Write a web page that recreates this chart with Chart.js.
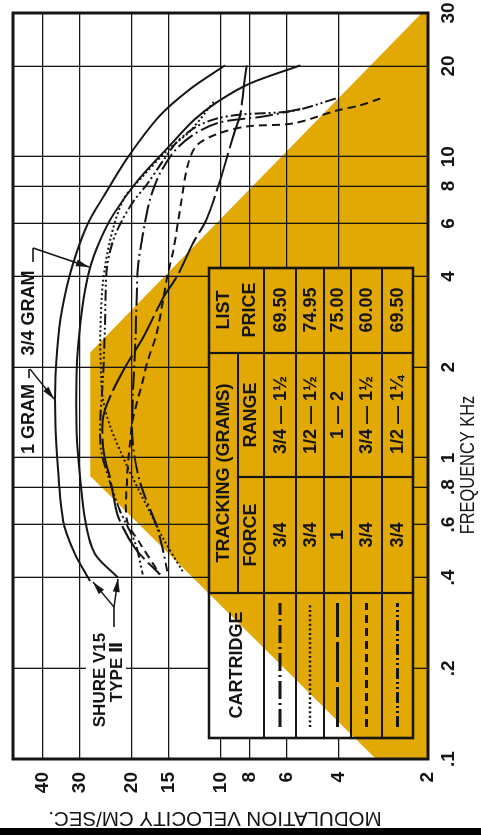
<!DOCTYPE html>
<html>
<head>
<meta charset="utf-8">
<script src="https://cdn.jsdelivr.net/npm/chart.js@4.4.1/dist/chart.umd.min.js"></script>
<style>
  html, body { margin: 0; padding: 0; background: #fff; overflow: hidden; width: 481px; height: 835px; }
  /* the sheet is laid out landscape and turned a quarter turn counter-clockwise */
  #sheet { position: absolute; left: 0; top: 0; width: 835px; height: 481px;
           transform-origin: 0 0; transform: translateY(835px) rotate(-90deg); background: #fff; }
  canvas { display: block; }
</style>
</head>
<body>
<div id="sheet"><canvas id="chart" width="835" height="481"></canvas></div>
<script>
// ---- axes ----
const freqTicks = [0.1, 0.2, 0.4, 0.6, 0.8, 1, 2, 4, 6, 8, 10, 20, 30];
const freqTickLabels = ['.1', '.2', '.4', '.6', '.8', '1', '2', '4', '6', '8', '10', '20', '30'];
const velTicks = [2, 4, 6, 8, 10, 15, 20, 30, 40];
const velTickLabels = ['2', '4', '6', '8', '10', '15', '20', '30', '40'];

// ---- recorded-level limit area (kHz, cm/sec) ----
const limitFreq = [30, 2.24, 0.87, 0.1, 0.1, 30];
const limitVel  = [2.1, 27.7, 27.7, 3.0, 2, 2];

// ---- Shure V15 Type II trackability ----
const shure1gFreq = [20.1, 16.8, 13.7, 10, 7.5, 6.0, 4.3, 3.1, 2.3, 1.57, 0.99, 0.62, 0.48, 0.39];
const shure1gVel  = [9.7, 12.7, 16.1, 20.6, 24.7, 28.2, 31.9, 34.5, 35.8, 36.4, 35.8, 34.2, 31.2, 27.7];
const shure34Freq = [20.1, 17.5, 15.2, 13.2, 10.9, 8.3, 6.4, 5.3, 4.3, 3.1, 2.1, 1.57, 1.13, 0.62, 0.48, 0.40];
const shure34Vel  = [5.4, 8.0, 10.3, 12.4, 14.9, 19.2, 23.2, 25.6, 27.7, 29.5, 30.7, 30.9, 30.7, 28.8, 26.7, 22.3];

// ---- other cartridges ----
const cart1Freq = [14.4, 13.6, 13.0, 11.9, 10.5, 8.8, 7.2, 5.5, 4.3, 2.4, 1.57, 1.13, 0.83, 0.59, 0.49, 0.42];
const cart1Vel  = [5.4, 7.2, 10.1, 12.3, 14.3, 16.1, 17.4, 18.4, 19.1, 19.5, 19.9, 19.9, 18.8, 16.5, 15.7, 15.2];
const cart2Freq = [15.2, 12.2, 10.5, 8.6, 7.2, 5.3, 3.8, 2.6, 2.0, 1.57, 1.27, 0.94, 0.66, 0.54, 0.42];
const cart2Vel  = [10.6, 12.7, 15.2, 18.4, 21.4, 23.7, 25.1, 25.6, 25.5, 25.1, 23.7, 20.8, 17.4, 15.7, 13.5];
const cart3Freq = [20.1, 16.8, 13.9, 11.7, 8.3, 6.2, 5.2, 4.0, 3.4, 2.5, 2.0, 1.6, 1.34, 1.03, 0.85, 0.64, 0.50, 0.41];
const cart3Vel  = [8.2, 8.4, 8.6, 9.1, 10.1, 11.2, 12.4, 14.1, 15.7, 18.4, 21.1, 23.7, 25.1, 24.9, 23.7, 22.3, 19.5, 16.1];
const cart4Freq = [15.6, 14.8, 14.2, 12.9, 12.6, 11.9, 10.9, 9.3, 7.2, 4.9, 4.0, 2.6, 2.1, 1.8, 1.34, 1.13, 0.85, 0.62, 0.52, 0.41];
const cart4Vel  = [2.9, 3.4, 4.1, 5.7, 8.2, 10.3, 12.1, 13.0, 13.6, 14.5, 15.2, 16.5, 17.7, 18.4, 19.9, 20.3, 20.8, 20.8, 18.8, 16.1];
const cart5Freq = [15.6, 14.2, 13.8, 13.4, 12.6, 11.2, 9.7, 8.1, 7.0, 5.5, 4.3, 2.7, 1.8, 1.34, 1.07, 0.87, 0.67, 0.52, 0.41];
const cart5Vel  = [4.1, 5.7, 8.6, 10.3, 12.1, 14.1, 15.7, 17.8, 20.0, 22.8, 24.3, 24.7, 25.1, 25.6, 25.5, 24.1, 22.0, 19.5, 18.4];

// ---- table ----
const trackingForce = ['3/4', '3/4', '1', '3/4', '3/4'];
const trackingRange = ['3/4 \u2014 1\u00BD', '1/2 \u2014 1\u00BD', '1 \u2014 2', '3/4 \u2014 1\u00BD', '1/2 \u2014 1\u00BC'];
const listPrice = ['69.50', '74.95', '75.00', '60.00', '69.50'];

const INK = '#151515';
const ORANGE = '#E2A904';
const FONT = '"Liberation Sans", Arial, "DejaVu Sans", sans-serif';
const DASH = {
  dashDot: [18, 4, 2, 4],
  dotted: [2, 2.6],
  longDash: [40, 5],
  dashed: [8, 5],
  dashDotDot: [11, 3, 2, 3, 2, 3]
};

function curve(freq, vel, dash) {
  return {
    data: freq.map((f, i) => ({ x: f, y: vel[i] })),
    showLine: true, borderColor: INK, borderWidth: 2, borderDash: dash || [],
    borderCapStyle: 'butt', pointRadius: 0, tension: 0.3, fill: false
  };
}

const datasets = [
  curve(shure1gFreq, shure1gVel),
  curve(shure34Freq, shure34Vel),
  curve(cart1Freq, cart1Vel, DASH.dashDot),
  curve(cart2Freq, cart2Vel, DASH.dotted),
  curve(cart3Freq, cart3Vel, DASH.longDash),
  curve(cart4Freq, cart4Vel, DASH.dashed),
  curve(cart5Freq, cart5Vel, DASH.dashDotDot)
];
const legendDash = [DASH.dashDot, DASH.dotted, DASH.longDash, DASH.dashed, DASH.dashDotDot];

function tracePolygon(chart, ctx) {
  const sx = chart.scales.x, sy = chart.scales.y;
  ctx.beginPath();
  limitFreq.forEach((f, i) => {
    const x = sx.getPixelForValue(f), y = sy.getPixelForValue(limitVel[i]);
    if (i) ctx.lineTo(x, y); else ctx.moveTo(x, y);
  });
  ctx.closePath();
}

function label(ctx, s, x, y, size, weight, align, squeeze) {
  ctx.save();
  ctx.font = (weight || 'bold') + ' ' + size + 'px ' + FONT;
  ctx.fillStyle = INK;
  ctx.textAlign = align || 'center';
  ctx.textBaseline = 'middle';
  ctx.translate(x, y);
  if (squeeze) ctx.scale(squeeze, 1);
  ctx.fillText(s, 0, 0);
  ctx.restore();
}

function line(ctx, pts, w) {
  ctx.beginPath();
  pts.forEach((p, i) => i ? ctx.lineTo(p[0], p[1]) : ctx.moveTo(p[0], p[1]));
  ctx.lineWidth = w || 1.6;
  ctx.strokeStyle = INK;
  ctx.stroke();
}

function arrow(ctx, x0, y0, x1, y1) {
  line(ctx, [[x0, y0], [x1, y1]], 1.6);
  const a = Math.atan2(y1 - y0, x1 - x0), L = 13, W = 3.5;
  ctx.beginPath();
  ctx.moveTo(x1, y1);
  ctx.lineTo(x1 - L * Math.cos(a) + W * Math.sin(a), y1 - L * Math.sin(a) - W * Math.cos(a));
  ctx.lineTo(x1 - L * Math.cos(a) - W * Math.sin(a), y1 - L * Math.sin(a) + W * Math.cos(a));
  ctx.closePath();
  ctx.fillStyle = INK;
  ctx.fill();
}

const sheetArt = {
  id: 'sheetArt',
  beforeDatasetsDraw(chart) {
    const { ctx, chartArea: a } = chart;
    ctx.save();
    ctx.beginPath(); ctx.rect(a.left, a.top, a.right - a.left, a.bottom - a.top); ctx.clip();
    tracePolygon(chart, ctx);
    ctx.fillStyle = ORANGE; ctx.fill();
    ctx.restore();
  },
  afterDraw(chart) {
    const { ctx, chartArea: a } = chart;

    // table block: blank panel (white / orange) with ruled cells
    const L = 97, R = 567, T = 209, B = 413;
    const cols = [97, 242, 358, 482, 567];
    const rows = [264, 296, 324, 351, 382, 413];
    ctx.save();
    ctx.beginPath(); ctx.rect(L, T, R - L, B - T); ctx.clip();
    ctx.fillStyle = '#fff'; ctx.fillRect(L, T, R - L, B - T);
    tracePolygon(chart, ctx); ctx.fillStyle = ORANGE; ctx.fill();
    ctx.restore();

    ctx.save();
    ctx.lineCap = 'square';
    line(ctx, [[L, T], [R, T], [R, B], [L, B], [L, T]], 2.6);
    line(ctx, [[cols[1], T], [cols[1], B]], 2.2);
    line(ctx, [[cols[3], T], [cols[3], B]], 2.2);
    line(ctx, [[cols[2], 238], [cols[2], B]], 2.2);
    line(ctx, [[cols[1], 238], [cols[3], 238]], 2.2);
    rows.forEach(r => line(ctx, [[L, r], [R, r]], 2.2));
    ctx.restore();

    label(ctx, 'CARTRIDGE', 170, 237, 18);
    label(ctx, 'TRACKING (GRAMS)', 362, 224, 18);
    label(ctx, 'FORCE', 300, 251, 18);
    label(ctx, 'RANGE', 420, 251, 18);
    label(ctx, 'LIST', 525, 224, 18);
    label(ctx, 'PRICE', 525, 250, 18);
    for (let i = 0; i < 5; i++) {
      const cy = (rows[i] + rows[i + 1]) / 2;
      ctx.save();
      ctx.setLineDash(legendDash[i]);
      ctx.lineCap = 'butt';
      line(ctx, [[108, cy], [232, cy]], i === 1 ? 2.4 : 2.8);
      ctx.restore();
      label(ctx, trackingForce[i], 300, cy + 1, 18);
      label(ctx, trackingRange[i], 420, cy + 1, 18);
      label(ctx, listPrice[i], 525, cy + 1, 18);
    }

    // callouts
    label(ctx, '1 GRAM', 416, 29, 18);
    line(ctx, [[457, 29], [466, 29]], 1.6);
    arrow(ctx, 466, 30, 436, 54);
    label(ctx, '3/4 GRAM', 522, 29, 18);
    line(ctx, [[573, 33], [587, 33]], 1.6);
    arrow(ctx, 587, 33, 568, 89);

    ctx.fillStyle = '#fff';
    ctx.fillRect(100, 86, 112, 40);
    label(ctx, 'SHURE V15', 155, 100, 17);
    label(ctx, 'TYPE \u2161', 163, 117, 17);
    line(ctx, [[208, 114], [228, 114]], 1.6);
    arrow(ctx, 228, 114, 253, 93);
    arrow(ctx, 228, 114, 256, 118);

    // plot frame
    ctx.save();
    ctx.lineWidth = 3; ctx.strokeStyle = INK;
    ctx.strokeRect(a.left, a.top, a.right - a.left, a.bottom - a.top);
    ctx.restore();

    // axis titles
    label(ctx, 'FREQUENCY KHz', 370, 468, 20, 'normal', 'center', 0.82);
    ctx.save();
    ctx.translate(17, 215);
    ctx.rotate(-Math.PI / 2);
    label(ctx, 'MODULATION VELOCITY CM/SEC.', 0, 0, 20.5, 'normal');
    ctx.restore();

    // dark edge of the sheet
    ctx.fillStyle = '#000';
    ctx.fillRect(0, 0, 7, 481);
  }
};

Chart.defaults.font.family = FONT;
new Chart(document.getElementById('chart').getContext('2d'), {
  type: 'scatter',
  data: { datasets },
  options: {
    responsive: false,
    devicePixelRatio: 1,
    animation: false,
    layout: { padding: { top: 13, right: 13, left: 0, bottom: 0 } },
    plugins: { legend: { display: false }, tooltip: { enabled: false } },
    scales: {
      x: {
        type: 'logarithmic', position: 'bottom', min: 0.1, max: 30,
        afterBuildTicks: s => { s.ticks = freqTicks.map(v => ({ value: v })); },
        afterFit: s => { s.height = 53; s.paddingLeft = 0; s.paddingRight = 0; },
        grid: { color: INK, lineWidth: 1.3, drawTicks: false, z: 1 },
        border: { display: false },
        ticks: {
          padding: 9, color: INK, autoSkip: false, maxRotation: 0, minRotation: 0,
          font: { family: FONT, size: 19, weight: 'bold' },
          callback: (v, i) => freqTickLabels[i]
        }
      },
      y: {
        type: 'logarithmic', position: 'left', min: 2, max: 50.5,
        afterBuildTicks: s => { s.ticks = velTicks.map(v => ({ value: v })); },
        afterFit: s => { s.width = 76; s.paddingTop = 0; s.paddingBottom = 0; },
        grid: { color: INK, lineWidth: 1.3, drawTicks: false, z: 1 },
        border: { display: false },
        ticks: {
          padding: 13, color: INK, autoSkip: false,
          font: { family: FONT, size: 19, weight: 'bold' },
          callback: (v, i) => velTickLabels[i]
        }
      }
    }
  },
  plugins: [sheetArt]
});
</script>
</body>
</html>
